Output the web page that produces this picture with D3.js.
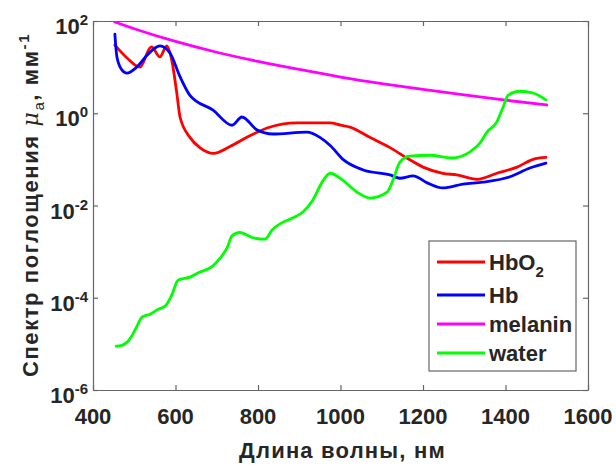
<!DOCTYPE html>
<html><head><meta charset="utf-8">
<script src="https://cdn.jsdelivr.net/npm/d3@7/dist/d3.min.js"></script>
<style>
body{margin:0;background:#fff;}
text{font-family:"Liberation Sans",Arial,sans-serif;font-weight:bold;fill:#262626;}
</style></head>
<body><svg id="c" width="616" height="465"></svg>
<script>
// ---- data ----
const hbo2WL = [453,482,514,538,542,562,579,591,603,611,635,659,692,732,773,822,895,975,1000,1023,1071,1120,1161,1200,1248,1282,1331,1379,1428,1467,1498];
const hbo2Val = [30,16,10,26,27.5,16.6,29,14,2.8,0.83,0.30,0.18,0.135,0.19,0.30,0.48,0.62,0.62,0.55,0.50,0.30,0.18,0.107,0.068,0.050,0.046,0.037,0.050,0.068,0.10,0.11];

const hbWL = [453,458,470,482,506,531,562,587,611,635,691,737,761,797,836,918,950,975,1006,1055,1120,1144,1176,1210,1248,1297,1345,1411,1459,1498];
const hbVal = [52,16.6,8.7,7.4,10,18,29,20,6.2,2.45,1.17,0.55,0.83,0.44,0.355,0.39,0.30,0.20,0.10,0.059,0.046,0.039,0.044,0.031,0.024,0.029,0.032,0.042,0.065,0.083];

const melaninWL = [453,500,600,700,800,900,1000,1100,1200,1300,1400,1500];
const melaninVal = [95,68,36,21,13.3,8.9,6.1,4.4,3.3,2.5,1.92,1.51];

const waterWL = [456,470,490,502,519,538,558,575,591,606,635,659,691,708,725,737,756,788,817,834,853,885,909,933,958,975,1006,1040,1071,1113,1127,1144,1168,1217,1270,1314,1338,1355,1379,1394,1406,1435,1467,1498];
const waterVal = [8.9e-6,9.3e-6,1.3e-5,2.0e-5,3.8e-5,4.4e-5,5.6e-5,6.6e-5,1.15e-4,2.4e-4,2.8e-4,3.6e-4,4.9e-4,7.2e-4,1.2e-3,2.2e-3,2.6e-3,2.0e-3,1.86e-3,2.95e-3,4.0e-3,5.4e-3,7.2e-3,0.0132,0.035,0.050,0.035,0.0195,0.0145,0.0195,0.035,0.087,0.117,0.123,0.107,0.145,0.224,0.39,0.65,1.35,2.45,3.0,2.75,1.95];

const xTicks = [400,600,800,1000,1200,1400,1600];
const yTickExp = [2,0,-2,-4,-6];
const seriesNames = ["HbO", "Hb", "melanin", "water"];
const seriesColors = ["#ff0000","#0000ff","#ff00ff","#00ff00"];

// ---- drawing ----
const svg = d3.select("#c");
const L=93, R=588, T=21, B=390;
const x = d3.scaleLinear().domain([400,1600]).range([L,R]);
const y = d3.scaleLog().domain([1e-6,1e2]).range([B,T]);

const series = [
  {wl:hbo2WL, v:hbo2Val},
  {wl:hbWL, v:hbVal},
  {wl:melaninWL, v:melaninVal},
  {wl:waterWL, v:waterVal}
];

svg.append("clipPath").attr("id","cp").append("rect")
  .attr("x",L).attr("y",T).attr("width",R-L).attr("height",B-T);

const line = d3.line().x(d=>x(d[0])).y(d=>y(d[1])).curve(d3.curveMonotoneX);
const g = svg.append("g").attr("clip-path","url(#cp)");
series.forEach((s,i)=>{
  g.append("path").datum(s.wl.map((w,j)=>[w,s.v[j]]))
   .attr("d",line).attr("fill","none")
   .attr("stroke",seriesColors[i]).attr("stroke-width",2.8)
   .attr("stroke-linejoin","round").attr("stroke-linecap","round");
});

// axes box with inward ticks
const axCol="#666";
const yTickVals = yTickExp.map(e=>Math.pow(10,e));
const xb = d3.axisBottom(x).tickValues(xTicks).tickSizeInner(-5).tickSizeOuter(0).tickFormat("");
const xt = d3.axisTop(x).tickValues(xTicks).tickSizeInner(-5).tickSizeOuter(0).tickFormat("");
const yl = d3.axisLeft(y).tickValues(yTickVals).tickSizeInner(-5).tickSizeOuter(0).tickFormat("");
const yr = d3.axisRight(y).tickValues(yTickVals).tickSizeInner(-5).tickSizeOuter(0).tickFormat("");
[[xb,`translate(0,${B})`],[xt,`translate(0,${T})`],[yl,`translate(${L},0)`],[yr,`translate(${R},0)`]].forEach(([a,t])=>{
  const gg = svg.append("g").attr("transform",t).call(a);
  gg.selectAll("path,line").attr("stroke",axCol).attr("stroke-width",1.2);
});

// x tick labels
svg.append("g").selectAll("text").data(xTicks).join("text")
  .attr("x",d=>x(d)).attr("y",B+34).attr("text-anchor","middle")
  .attr("font-size",22).text(d=>d);

// y tick labels
yTickExp.forEach(e=>{
  const t = svg.append("text").attr("x",88).attr("y",y(Math.pow(10,e))+13)
    .attr("text-anchor","end").attr("font-size",22);
  t.append("tspan").text("10");
  t.append("tspan").attr("font-size",15).attr("dy",-9).text(e<0?"-"+(-e):String(e));
});

// x title
svg.append("text").attr("x",(L+R)/2+2).attr("y",458).attr("text-anchor","middle")
  .attr("font-size",22).attr("letter-spacing",1.2).text("Длина волны, нм");

// y title
const yt = svg.append("text").attr("transform","translate(38,205) rotate(-90)")
  .attr("text-anchor","middle").attr("font-size",22).attr("letter-spacing",1.6);
yt.append("tspan").text("Спектр поглощения ");
yt.append("tspan").attr("font-style","italic").attr("font-weight","normal").attr("font-family","DejaVu Serif, serif").text("μ");
yt.append("tspan").attr("font-size",15).attr("font-weight","normal").attr("dy",6).text("a");
yt.append("tspan").attr("dy",-6).text(", мм");
yt.append("tspan").attr("font-size",15).attr("dy",-9).text("-1");

// legend
const lg = svg.append("g");
lg.append("rect").attr("x",429).attr("y",241).attr("width",147).attr("height",130)
  .attr("fill","#fff").attr("stroke",axCol).attr("stroke-width",1.2);
const legY = [262,295,324,353];
seriesNames.forEach((n,i)=>{
  lg.append("line").attr("x1",437).attr("x2",485).attr("y1",legY[i]).attr("y2",legY[i])
    .attr("stroke",seriesColors[i]).attr("stroke-width",2.8);
  const t = lg.append("text").attr("x",489).attr("y",legY[i]+8).attr("font-size",22);
  t.append("tspan").text(n);
  if(i===0) t.append("tspan").attr("font-size",15).attr("dy",7).text("2");
});
</script></body></html>
